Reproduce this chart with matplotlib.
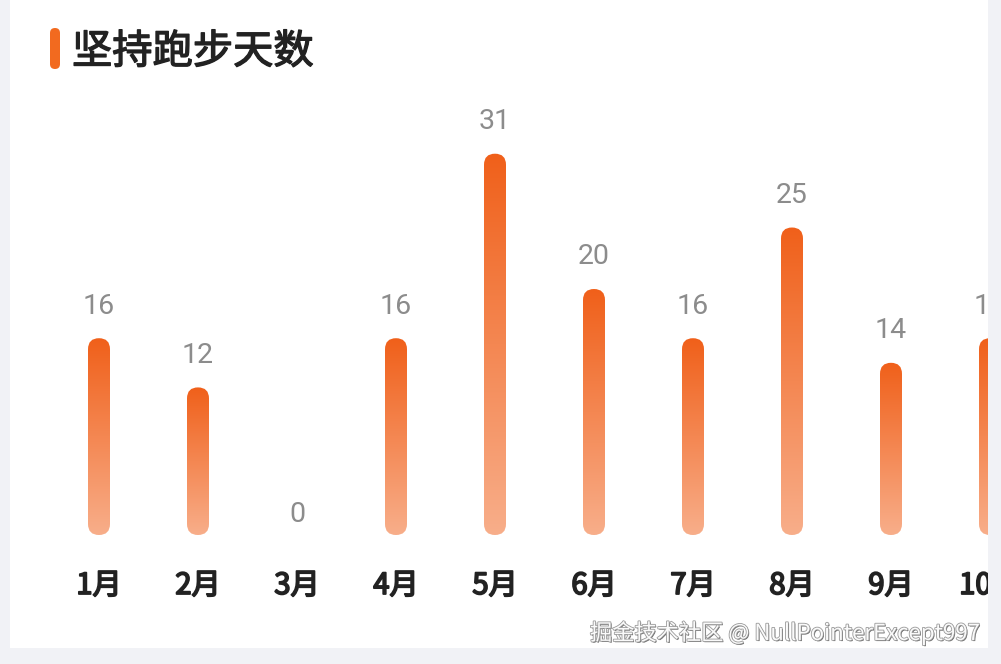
import numpy as np
import matplotlib
matplotlib.use("Agg")
import matplotlib.pyplot as plt
from matplotlib.patches import FancyBboxPatch
from matplotlib.transforms import IdentityTransform, blended_transform_factory
from matplotlib.colors import LinearSegmentedColormap
import matplotlib.patheffects as pe

# ---- data ----
months = ["1月", "2月", "3月", "4月", "5月", "6月", "7月", "8月", "9月", "10月"]
days = [16, 12, 0, 16, 31, 20, 16, 25, 14, 16]
title = "坚持跑步天数"
watermark = "掘金技术社区 @ NullPointerExcept997"

# ---- style ----
BG = "#F1F2F6"
ORANGE_TOP = "#F0601A"
ORANGE_BOT = "#F8AE8A"
LABEL_GRAY = "#8C8C8C"
DARK = "#222222"
CJK = ["Noto Sans CJK SC", "DejaVu Sans"]
NUM = ["Roboto", "Noto Sans CJK SC", "DejaVu Sans"]

W, H, DPI = 1001, 664, 100
fig = plt.figure(figsize=(W / DPI, H / DPI), dpi=DPI, facecolor=BG)

# white card = axes area
card_l, card_b, card_w, card_h = 10, 16, 978, 648
ax = fig.add_axes([card_l / W, card_b / H, card_w / W, card_h / H])
ax.set_facecolor("white")
for s in ax.spines.values():
    s.set_visible(False)
ax.set_xticks([])
ax.set_yticks([])

n = len(months)
x = np.arange(n)
step_px = 99.0
span = card_w / step_px
xmin = -(99 - card_l) / step_px

base_px = 113.0          # height of value 0 above the card bottom
unit_px = 12.3           # pixels per day
ylim = (-base_px / unit_px, (card_h - base_px) / unit_px)
ax.set_xlim(xmin, xmin + span)
ax.set_ylim(*ylim)

bar_w = 22.0 / step_px
grad = np.linspace(1, 0, 256).reshape(-1, 1)
cmap = LinearSegmentedColormap.from_list("og", [ORANGE_BOT, ORANGE_TOP])

for xi, v in zip(x, days):
    if v > 0:
        (x0, y0) = ax.transData.transform((xi - bar_w / 2, 0))
        (x1, y1) = ax.transData.transform((xi + bar_w / 2, v))
        r = (x1 - x0) / 2
        clip = FancyBboxPatch((x0, y0), x1 - x0, y1 - y0,
                              boxstyle=f"round,pad=0,rounding_size={r:.3f}",
                              transform=IdentityTransform(), facecolor="none",
                              edgecolor="none")
        im = ax.imshow(grad, cmap=cmap, extent=[xi - bar_w / 2, xi + bar_w / 2, 0, v],
                       aspect="auto", interpolation="bilinear", zorder=2)
        im.set_clip_path(clip)
    off = 32 if v > 0 else 20
    ax.annotate(str(v), (xi, v), xytext=(0, off), textcoords="offset pixels",
                ha="center", va="center", fontsize=20.5, color=LABEL_GRAY,
                family=NUM, annotation_clip=False, clip_on=True, zorder=3)

ax.set_xlim(xmin, xmin + span)
ax.set_ylim(*ylim)

tr = blended_transform_factory(ax.transData, ax.transAxes)
for xi, m in zip(x, months):
    ax.text(xi, 62 / card_h, m, transform=tr, ha="center", va="center",
            fontsize=21, color=DARK, family=CJK, fontweight="normal", clip_on=True,
            path_effects=[pe.withStroke(linewidth=1.3, foreground=DARK)])

# title with orange marker
marker = FancyBboxPatch((50, H - 69), 10, 41, boxstyle="round,pad=0,rounding_size=5",
                        transform=IdentityTransform(), facecolor="#F26A1F",
                        edgecolor="none")
fig.add_artist(marker)
fig.text(72 / W, (H - 52) / H, title, ha="left", va="center", fontsize=29,
         color=DARK, family=CJK,
         path_effects=[pe.withStroke(linewidth=1.0, foreground=DARK)])

# watermark
fig.text(980 / W, (H - 633) / H, watermark, ha="right", va="center", fontsize=16,
         color="#FAFAFA", family=CJK,
         path_effects=[pe.withSimplePatchShadow(offset=(0.8, -0.8), shadow_rgbFace="#555555", alpha=0.9),
                       pe.withStroke(linewidth=1.2, foreground="#9A9A9A")])

fig.savefig("out.png", dpi=DPI, facecolor=BG)
